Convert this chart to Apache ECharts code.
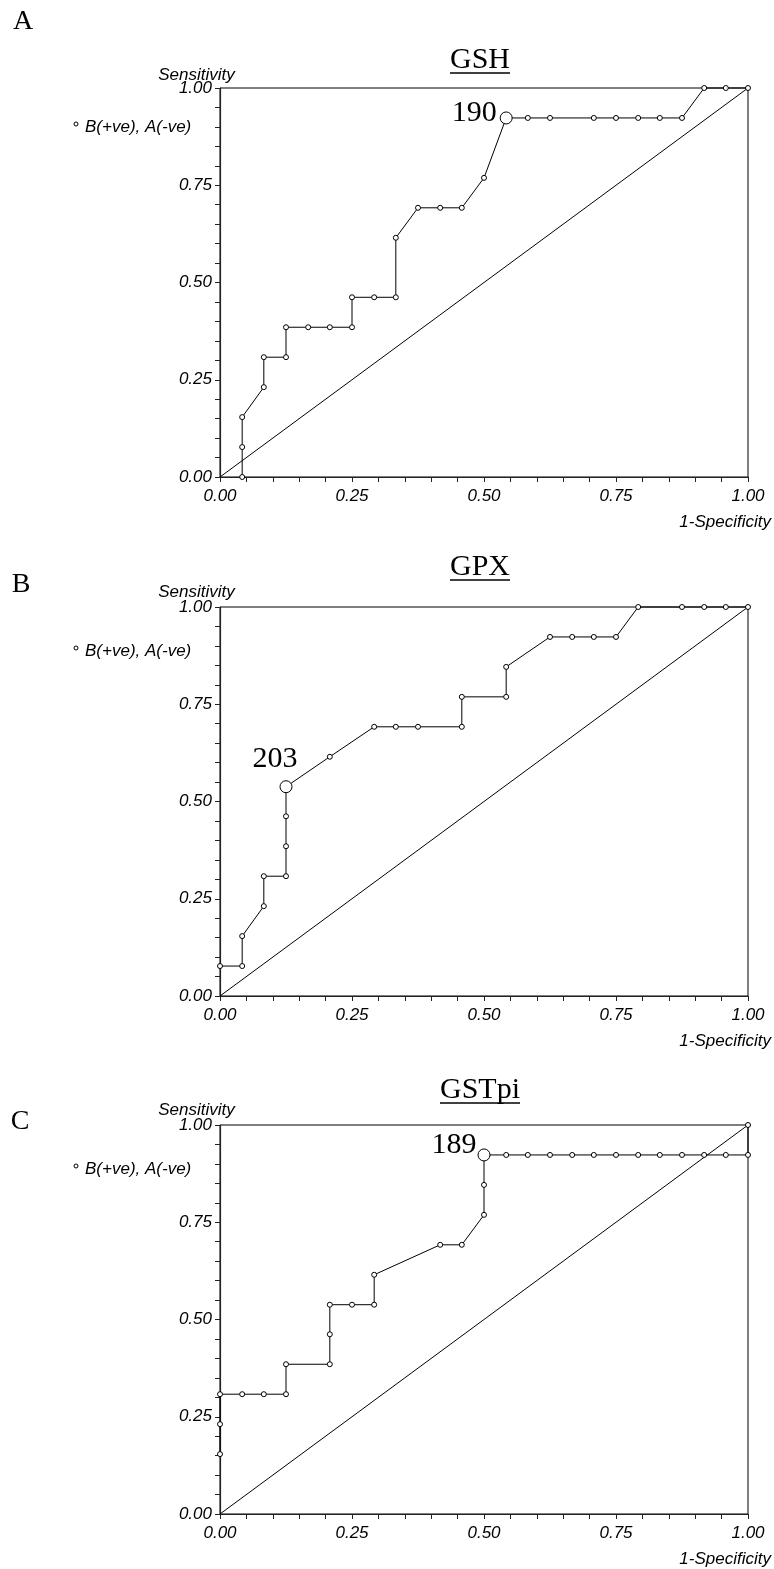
<!DOCTYPE html>
<html><head><meta charset="utf-8">
<script src="https://cdn.jsdelivr.net/npm/echarts@6/dist/echarts.min.js"></script>
<style>html,body{margin:0;padding:0;background:#fff}#c{width:774px;height:1569px}</style>
</head><body><div id="c"></div><script>
// ---- data ----
const tickLabels = ['0.00', '0.25', '0.50', '0.75', '1.00'];
const panelLetters = ['A', 'B', 'C'];
const panelTitles = ['GSH', 'GPX', 'GSTpi'];
const xAxisName = '1-Specificity';
const yAxisName = 'Sensitivity';
const legendText = 'B(+ve), A(-ve)';

const gshX = [0.042,0.042,0.042,0.083,0.083,0.125,0.125,0.167,0.208,0.250,0.250,0.292,0.333,0.333,0.375,0.417,0.458,0.500,0.542,0.583,0.625,0.708,0.750,0.792,0.833,0.875,0.917,0.958,1.000];
const gshY = [0.000,0.077,0.154,0.231,0.308,0.308,0.385,0.385,0.385,0.385,0.462,0.462,0.462,0.615,0.692,0.692,0.692,0.769,0.923,0.923,0.923,0.923,0.923,0.923,0.923,0.923,1.000,1.000,1.000];

const gpxX = [0.000,0.042,0.042,0.083,0.083,0.125,0.125,0.125,0.125,0.208,0.292,0.333,0.375,0.458,0.458,0.542,0.542,0.625,0.667,0.708,0.750,0.792,0.875,0.917,0.958,1.000];
const gpxY = [0.077,0.077,0.154,0.231,0.308,0.308,0.385,0.462,0.538,0.615,0.692,0.692,0.692,0.692,0.769,0.769,0.846,0.923,0.923,0.923,0.923,1.000,1.000,1.000,1.000,1.000];

const gstX = [0.000,0.000,0.000,0.042,0.083,0.125,0.125,0.208,0.208,0.208,0.250,0.292,0.292,0.417,0.458,0.500,0.500,0.500,0.542,0.583,0.625,0.667,0.708,0.750,0.792,0.833,0.875,0.917,0.958,1.000,1.000];
const gstY = [0.154,0.231,0.308,0.308,0.308,0.308,0.385,0.385,0.462,0.538,0.538,0.538,0.615,0.692,0.692,0.769,0.846,0.923,0.923,0.923,0.923,0.923,0.923,0.923,0.923,0.923,0.923,0.923,0.923,0.923,1.000];

const cutX = [0.542, 0.125, 0.500];
const cutY = [0.923, 0.538, 0.923];
const cutLabels = ['190', '203', '189'];

const diagX = [0, 1];
const diagY = [0, 1];

// ---- layout / style ----
const curvesX = [gshX, gpxX, gstX];
const curvesY = [gshY, gpxY, gstY];
const plotLeft = 220, plotW = 528, plotH = 389;
const tops = [88, 607, 1125];
const titleBase = [70, 577, 1100];
const letterPos = [[23, 22], [21, 585], [20, 1122]];
const sensY = [75, 592, 1110];
const legendY = [127, 651, 1169];
const cutLabelCfg = [
  {position: 'left', distance: 3, offset: [0, -5]},
  {position: 'top', distance: 6, offset: [-11, 0]},
  {position: 'left', distance: 1, offset: [0, -10]}
];
const SANS = 'Liberation Sans, Arial, sans-serif';
const SERIF = 'Liberation Serif, Times New Roman, serif';
const axisColor = '#222';

const zip = (a, b) => a.map((v, i) => [v, b[i]]);
const meas = document.createElement('canvas').getContext('2d');
meas.font = '30px "Liberation Serif"';

const grid = [], xAxis = [], yAxis = [], series = [], graphic = [];
for (let i = 0; i < 3; i++) {
  grid.push({left: plotLeft, top: tops[i], width: plotW, height: plotH, show: true,
    borderColor: '#000', borderWidth: 1, backgroundColor: 'transparent'});
  const common = {
    type: 'value', gridIndex: i, min: 0, max: 1, interval: 0.25,
    axisLine: {show: true, onZero: false, lineStyle: {color: axisColor, width: 1.2}},
    axisTick: {show: true, length: 5, lineStyle: {color: axisColor}},
    minorTick: {show: true, splitNumber: 5, length: 5, lineStyle: {color: axisColor}},
    splitLine: {show: false}, minorSplitLine: {show: false},
    axisLabel: {formatter: v => tickLabels[Math.round(v / 0.25)], fontStyle: 'italic',
      fontSize: 17, fontFamily: SANS, color: '#000'}
  };
  xAxis.push(Object.assign({}, common, {axisLabel: Object.assign({}, common.axisLabel, {margin: 11})}));
  yAxis.push(Object.assign({}, common, {axisLabel: Object.assign({}, common.axisLabel, {margin: 8})}));

  series.push({type: 'line', xAxisIndex: i, yAxisIndex: i, data: zip(diagX, diagY),
    symbol: 'none', lineStyle: {color: '#000', width: 1}, silent: true, z: 2, clip: false});
  series.push({type: 'line', xAxisIndex: i, yAxisIndex: i, data: zip(curvesX[i], curvesY[i]),
    symbol: 'circle', symbolSize: 5, clip: false, z: 3, silent: true,
    itemStyle: {color: '#fff', borderColor: '#000', borderWidth: 1, opacity: 1},
    lineStyle: {color: '#000', width: 1}});
  series.push({type: 'scatter', xAxisIndex: i, yAxisIndex: i, data: [[cutX[i], cutY[i]]],
    symbol: 'circle', symbolSize: 12, z: 4, silent: true, clip: false,
    itemStyle: {color: '#fff', borderColor: '#000', borderWidth: 1, opacity: 1},
    label: Object.assign({show: true, formatter: cutLabels[i], fontFamily: SERIF,
      fontSize: 30, color: '#000', opacity: 1}, cutLabelCfg[i])});

  graphic.push({type: 'text', x: letterPos[i][0], y: letterPos[i][1],
    style: {text: panelLetters[i], font: '28px ' + SERIF, fill: '#000', textAlign: 'center', textVerticalAlign: 'middle'}});
  const tw = meas.measureText(panelTitles[i]).width;
  const cx = 480;
  graphic.push({type: 'text', x: cx, y: titleBase[i] - 10,
    style: {text: panelTitles[i], font: '30px ' + SERIF, fill: '#000', textAlign: 'center', textVerticalAlign: 'middle'}});
  graphic.push({type: 'line', shape: {x1: cx - tw / 2, y1: titleBase[i] + 3, x2: cx + tw / 2, y2: titleBase[i] + 3},
    style: {stroke: '#000', lineWidth: 1.5}});
  graphic.push({type: 'text', x: 196.5, y: sensY[i],
    style: {text: yAxisName, font: 'italic 17px ' + SANS, fill: '#000', textAlign: 'center', textVerticalAlign: 'middle'}});
  graphic.push({type: 'circle', shape: {cx: 76, cy: legendY[i] - 3, r: 2},
    style: {fill: '#fff', stroke: '#000', lineWidth: 1}});
  graphic.push({type: 'text', x: 85, y: legendY[i],
    style: {text: legendText, font: 'italic 17px ' + SANS, fill: '#000', textAlign: 'left', textVerticalAlign: 'middle'}});
  graphic.push({type: 'text', x: 771, y: tops[i] + plotH + 45,
    style: {text: xAxisName, font: 'italic 17px ' + SANS, fill: '#000', textAlign: 'right', textVerticalAlign: 'middle'}});
}

const chart = echarts.init(document.getElementById('c'), null, {renderer: 'canvas'});
chart.setOption({animation: false, backgroundColor: '#fff', grid, xAxis, yAxis, series, graphic});
</script></body></html>
